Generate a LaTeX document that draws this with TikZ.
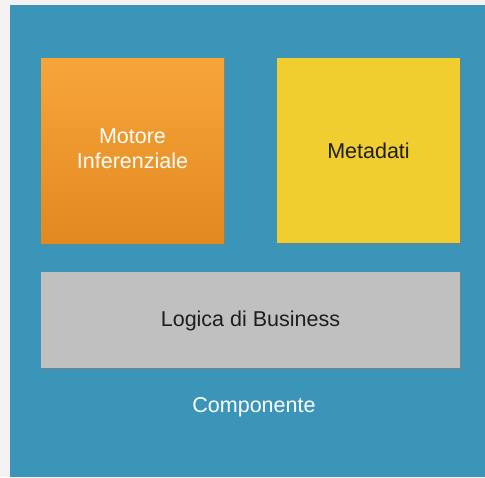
\documentclass[tikz,border=0pt]{standalone}
\usepackage{fontspec}
\setmainfont{Liberation Sans}
\usetikzlibrary{shadows}
\definecolor{bgblue}{RGB}{58,149,184}
\definecolor{edge}{RGB}{244,242,242}
\definecolor{orTop}{RGB}{247,165,58}
\definecolor{orBot}{RGB}{226,137,32}
\definecolor{yel}{RGB}{240,206,48}
\definecolor{gry}{RGB}{192,192,192}
\definecolor{txtdark}{RGB}{30,30,30}
\tikzset{
  card/.style={draw=none, drop shadow={shadow xshift=1.5pt, shadow yshift=-2pt, opacity=0.45}},
  lbl/.style={font=\fontsize{21.5}{25}\selectfont, align=center, inner sep=0pt}
}
\begin{document}
\begin{tikzpicture}[x=1pt,y=-1pt]
\useasboundingbox (0,0) rectangle (485,477);
\fill[edge] (0,0) rectangle (485,477);
\fill[bgblue] (10,5) rectangle (485,477);
\path[card, top color=orTop, bottom color=orBot] (41,58) rectangle (224,243);
\path[card, fill=yel] (277,58) rectangle (460,243);
\path[card, fill=gry] (41,272) rectangle (460,368);
\node[lbl, text=white] (motore) at (132.5,149) {Motore\\Inferenziale};
\node[lbl, text=txtdark] (meta) at (368.5,151) {Metadati};
\node[lbl, text=txtdark] (logica) at (250.5,321) {Logica di Business};
\node[lbl, text=white] (comp) at (254,407) {Componente};
\end{tikzpicture}
\end{document}
